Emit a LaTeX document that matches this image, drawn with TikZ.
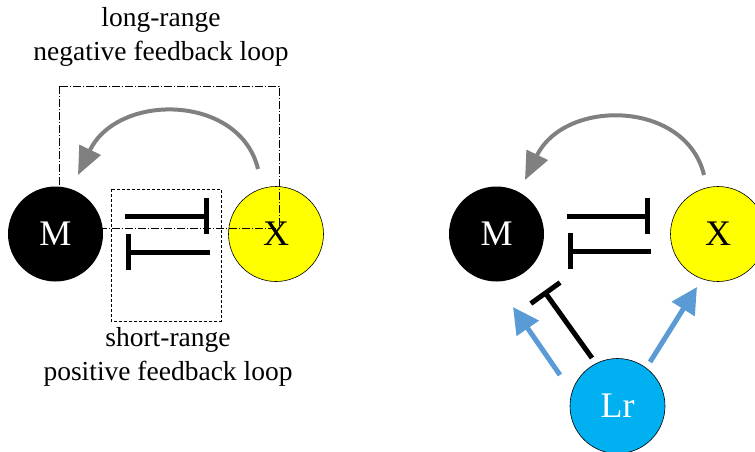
\documentclass[tikz,border=0pt]{standalone}
\usepackage{fontspec}
\setmainfont{Liberation Serif}
\usetikzlibrary{arrows.meta}
\definecolor{xyellow}{RGB}{255,255,0}
\definecolor{lrcyan}{RGB}{0,176,240}
\definecolor{arrblue}{RGB}{91,155,213}
\definecolor{arrgray}{RGB}{128,128,128}
\tikzset{
  species/.style={circle, minimum size=95pt, inner sep=0pt, font=\fontsize{36}{40}\selectfont},
  inhib/.style={line width=5pt, -{Bar[width=36pt]}},
  grayarr/.style={draw=arrgray, line width=4pt, -{Triangle[length=28pt,width=23pt]}, arrgray},
  bluearr/.style={draw=arrblue, line width=5pt, -{Triangle[length=26pt,width=26pt]}, arrblue},
  lbl/.style={align=center, font=\fontsize{27.5}{34}\selectfont},
  longbox/.style={line width=0.8pt, dash pattern=on 8pt off 2pt on 1pt off 2pt},
  shortbox/.style={line width=0.8pt, dash pattern=on 3pt off 2pt},
}
\begin{document}
\begin{tikzpicture}[x=1pt,y=-1pt]
\useasboundingbox (0,0) rectangle (755,451);
% ---- left panel ----
\node[species, draw=black, line width=0.6pt, fill=xyellow] (X1) at (276,234) {X};
\draw[longbox] (59,86) rectangle (279,228);
\node[species, fill=black, text=white] (M1) at (55.5,234) {M};
\draw[shortbox] (111,189) rectangle (221,321);
\coordinate (a1s) at (125,216); \coordinate (a1e) at (209,216);
\coordinate (b1s) at (210,252); \coordinate (b1e) at (126,252);
\draw[inhib] (a1s) -- (a1e);
\draw[inhib] (b1s) -- (b1e);
\coordinate (g1s) at (258,169); \coordinate (g1e) at (78,175);
\draw[grayarr] (g1s) .. controls (240,94) and (118,92) .. (g1e);
\node[lbl] (tl) at (161,37) {long-range\\negative feedback loop};
\node[lbl] (bl) at (168,357) {short-range\\positive feedback loop};
% ---- right panel ----
\node[species, fill=black, text=white] (M2) at (496.5,234) {M};
\node[species, draw=black, line width=0.6pt, fill=xyellow] (X2) at (718,234) {X};
\node[species, draw=black, line width=0.6pt, fill=lrcyan, text=white] (Lr) at (617.5,406) {Lr};
\coordinate (a2s) at (567,216); \coordinate (a2e) at (650,216);
\coordinate (b2s) at (651,251); \coordinate (b2e) at (568,251);
\draw[inhib] (a2s) -- (a2e);
\draw[inhib] (b2s) -- (b2e);
\coordinate (g2s) at (704,175); \coordinate (g2e) at (525,180);
\draw[grayarr] (g2s) .. controls (686,100) and (565,98) .. (g2e);
\coordinate (lm) at (560,375); \coordinate (lmt) at (513,307);
\coordinate (lx) at (650,362); \coordinate (lxt) at (697,287);
\draw[bluearr] (lm) -- (lmt);
\draw[bluearr] (lx) -- (lxt);
\coordinate (li) at (592,358); \coordinate (lit) at (544,291);
\draw[inhib] (li) -- (lit);
\end{tikzpicture}
\end{document}
